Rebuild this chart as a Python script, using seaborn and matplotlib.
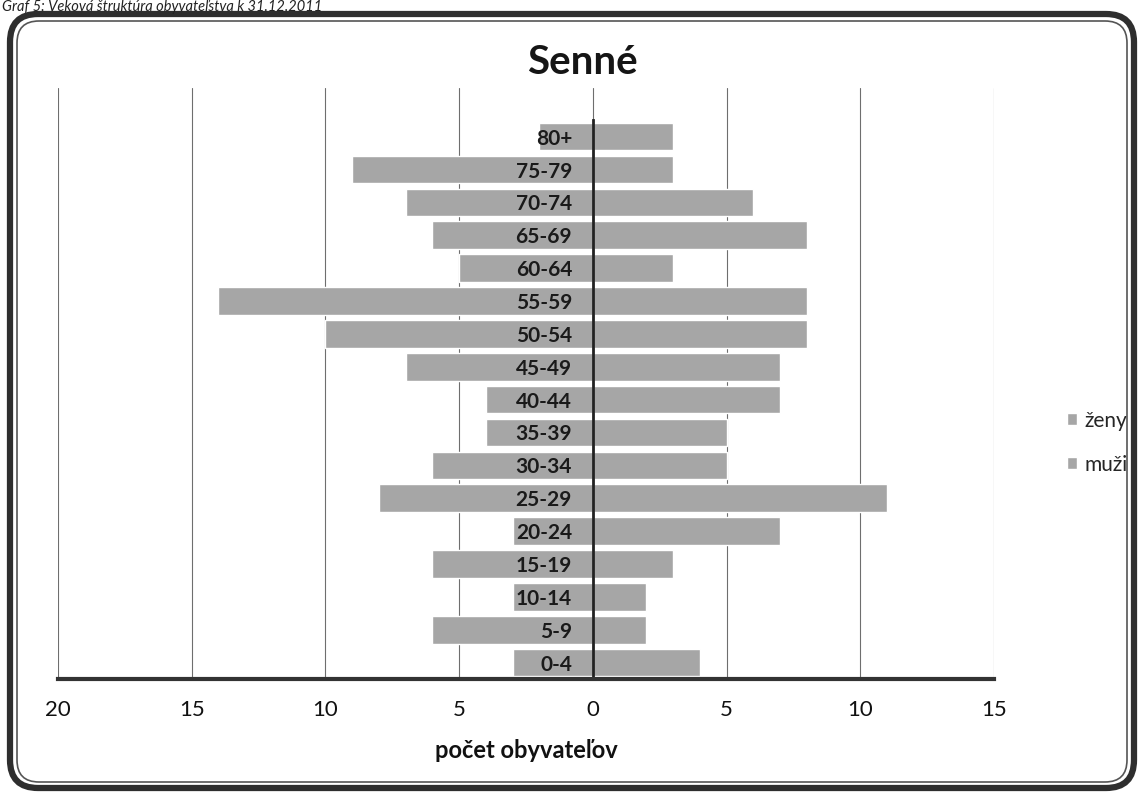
import numpy as np
import pandas as pd
import matplotlib
matplotlib.use("Agg")
import matplotlib.pyplot as plt
import seaborn as sns
from matplotlib.patches import FancyBboxPatch
from matplotlib.ticker import FuncFormatter, MultipleLocator

# ============================
# Data
# ============================
age_groups = ["80+", "75-79", "70-74", "65-69", "60-64", "55-59", "50-54",
              "45-49", "40-44", "35-39", "30-34", "25-29", "20-24", "15-19",
              "10-14", "5-9", "0-4"]
zeny = [2, 9, 7, 6, 5, 14, 10, 7, 4, 4, 6, 8, 3, 6, 3, 6, 3]
muzi = [3, 3, 6, 8, 3, 8, 8, 7, 7, 5, 5, 11, 7, 3, 2, 2, 4]

df = pd.DataFrame({
    "vek": age_groups,
    "zeny": -np.array(zeny),
    "muzi": np.array(muzi),
})

sns.set_theme(style="white")
plt.rcParams["font.family"] = ["Lato", "DejaVu Sans"]

bar_color = "#a6a6a6"
W, H = 1142, 792

fig = plt.figure(figsize=(W / 100, H / 100), dpi=100)
ax = fig.add_axes([58 / W, 1 - 679 / H, (994 - 58) / W, (679 - 88) / H])

sns.barplot(data=df, x="zeny", y="vek", color=bar_color, width=0.84,
            saturation=1, ax=ax, label="ženy")
sns.barplot(data=df, x="muzi", y="vek", color=bar_color, width=0.84,
            saturation=1, ax=ax, label="muži")

# ============================
# Axes styling
# ============================
ax.set_xlim(-20, 15)
ax.set_ylim(16.5, -1.48)
ax.xaxis.set_major_locator(MultipleLocator(5))
ax.xaxis.set_major_formatter(FuncFormatter(lambda v, p: f"{abs(v):g}"))

ax.set_axisbelow(True)
ax.grid(axis="x", color="#6e6e6e", linewidth=0.8)
ax.grid(axis="y", visible=False)
ax.yaxis.set_zorder(5)

for side in ["top", "right"]:
    ax.spines[side].set_visible(False)
ax.spines["left"].set_position(("data", 0))
ax.spines["left"].set_color("#222222")
ax.spines["left"].set_linewidth(2)
ax.spines["left"].set_bounds(16.5, -0.5)
ax.spines["bottom"].set_color("#333333")
ax.spines["bottom"].set_linewidth(3)

ax.tick_params(axis="x", direction="out", length=5, width=2, colors="#333333",
               labelsize=16, labelcolor="#111111", pad=10)
ax.tick_params(axis="y", which="major", length=0, pad=15, labelsize=15,
               labelcolor="#1a1a1a")
ax.set_yticks(np.arange(-0.5, 16.6, 1), minor=True)
ax.tick_params(axis="y", which="minor", direction="out", length=4, width=2,
               color="#333333")
for lbl in ax.get_yticklabels():
    lbl.set_fontweight("bold")

ax.set_ylabel("")
ax.set_xlabel("počet obyvateľov", fontsize=17, fontweight="bold",
              color="#111111", labelpad=14)

fig.text(582 / W, 1 - 62 / H, "Senné", fontsize=29, fontweight="bold",
         ha="center", va="center", color="#151515")

ax.legend(loc="center left", bbox_to_anchor=(1.058, 0.40), frameon=False,
          fontsize=15, handlelength=0.5, handleheight=0.5,
          handletextpad=0.35, labelspacing=1.15)

# caption above the frame (cut in the scan)
fig.text(2 / W, 1.0, "Graf 5: Veková štruktúra obyvateľstva k 31.12.2011",
         fontsize=10.5, fontstyle="italic", ha="left", va="top",
         color="#222222")

# rounded double frame around the chart (inch units so corners stay round)
px = 1 / 100
fig.patches.append(FancyBboxPatch((10 * px, 4 * px), 1124 * px, 774 * px,
                                  boxstyle="round,pad=0,rounding_size=0.28",
                                  transform=fig.dpi_scale_trans, fill=False,
                                  edgecolor="#2e2e2e", linewidth=4.5))
fig.patches.append(FancyBboxPatch((17 * px, 10 * px), 1110 * px, 761 * px,
                                  boxstyle="round,pad=0,rounding_size=0.22",
                                  transform=fig.dpi_scale_trans, fill=False,
                                  edgecolor="#555555", linewidth=1.2))

fig.savefig("out.png", dpi=100)
